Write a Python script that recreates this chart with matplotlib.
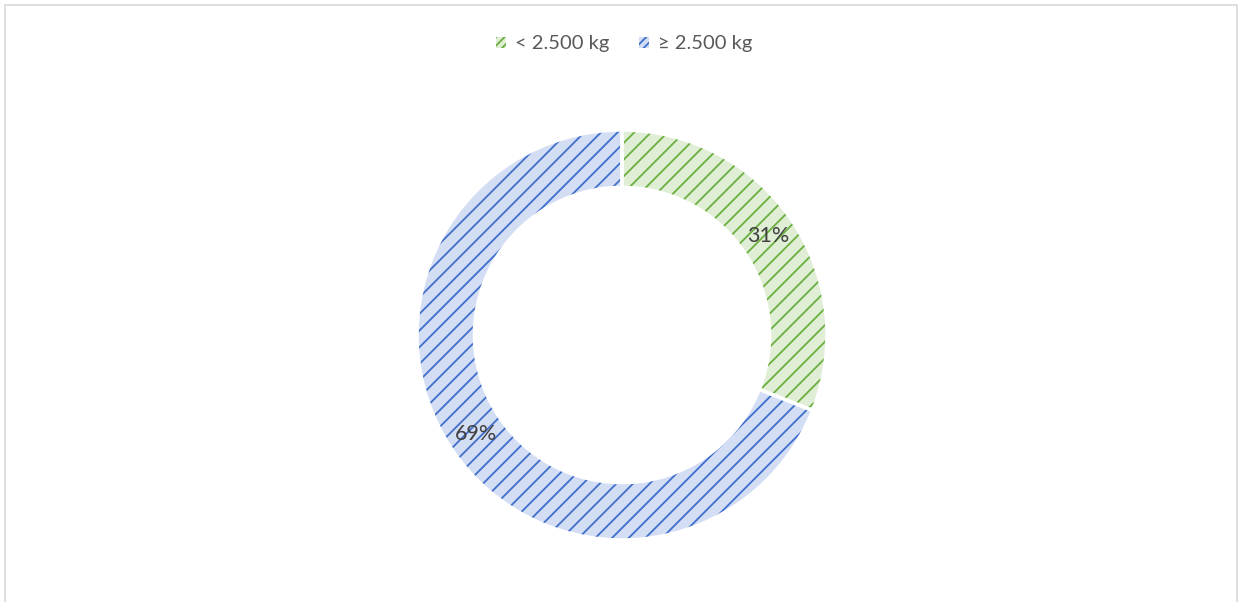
import matplotlib
matplotlib.use("Agg")
import matplotlib.pyplot as plt
from matplotlib.patches import Patch, Rectangle
import numpy as np

## Data
categories = ["< 2.500 kg", "\u2265 2.500 kg"]
shares = [31, 69]
pct_labels = ["31%", "69%"]

## Styles
hatch_cols = ["#6aaf3f", "#3f6fcc"]
fill_cols = ["#e0eed6", "#d3ddf4"]

plt.rcParams['font.family'] = ['Lato', 'DejaVu Sans']
plt.rcParams['hatch.linewidth'] = 1.3

W, H = 1241, 602
fig = plt.figure(figsize=(W / 100, H / 100), dpi=100)

# outer chart frame
fig.patches.append(Rectangle((5 / W, -0.1), (1237 - 5) / W, 1.1 - 5 / H,
                             transform=fig.transFigure, fill=False,
                             edgecolor="#d9d9d9", linewidth=1.2))

# donut centred at (622, 335) px, radius 205 px
cx, cy, r = 622, 335, 205
ax = fig.add_axes([(cx - r) / W, (H - cy - r) / H, 2 * r / W, 2 * r / H])

ring = 0.28
wedges, _ = ax.pie(shares, startangle=90, counterclock=False, radius=1,
                   colors=fill_cols, wedgeprops=dict(width=ring, linewidth=0))
for w, hc in zip(wedges, hatch_cols):
    w.set_hatch("//")
    w.set_edgecolor(hc)
    w.set_clip_on(False)

# white borders between slices
borders, _ = ax.pie(shares, startangle=90, counterclock=False, radius=1,
                    colors=["none", "none"],
                    wedgeprops=dict(width=ring, linewidth=2.5, edgecolor="white"))
for b in borders:
    b.set_clip_on(False)

# percentage labels in the middle of the ring
start = 90.0
for val, lab in zip(shares, pct_labels):
    span = val / sum(shares) * 360
    mid = np.deg2rad(start - span / 2)
    rr = 1 - ring / 2
    ax.text(rr * np.cos(mid), rr * np.sin(mid), lab, ha="center", va="center",
            fontsize=15.5, color="#404040")
    start -= span

ax.set_xlim(-1, 1)
ax.set_ylim(-1, 1)
ax.axis("off")

handles = [Patch(facecolor=fc, edgecolor=hc, hatch="////", linewidth=0)
           for fc, hc in zip(fill_cols, hatch_cols)]
fig.legend(handles, categories, loc="center", bbox_to_anchor=(0.503, 1 - 44 / H),
           ncol=2, frameon=False, fontsize=14.5, labelcolor="#595959",
           handlelength=0.5, handleheight=0.5, handletextpad=0.45,
           columnspacing=1.5)

fig.savefig("out.png", dpi=100, facecolor="white")
